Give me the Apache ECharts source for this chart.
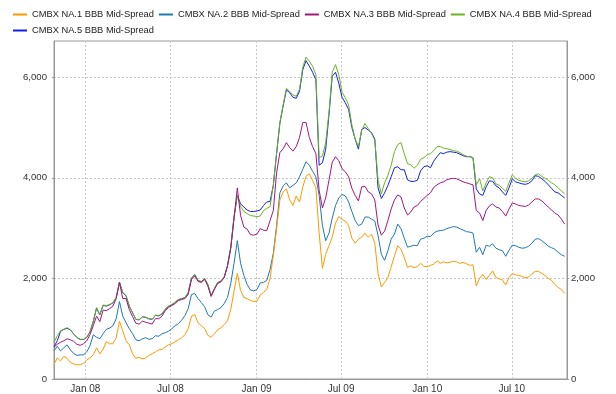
<!DOCTYPE html>
<html>
<head>
<meta charset="utf-8">
<script src="https://cdn.jsdelivr.net/npm/echarts@6/dist/echarts.min.js"></script>
<style>
  html, body { margin: 0; padding: 0; background: #ffffff; }
  #chart { width: 616px; height: 394px; }
</style>
</head>
<body>
<div id="chart"></div>
<script>
// Weekly BBB mid-spread readings (bp) for the CMBX NA series 1-5
const seriesNames = [
  'CMBX NA.1 BBB Mid-Spread',
  'CMBX NA.2 BBB Mid-Spread',
  'CMBX NA.3 BBB Mid-Spread',
  'CMBX NA.4 BBB Mid-Spread',
  'CMBX NA.5 BBB Mid-Spread'
];
const seriesColors = ['#FF9900', '#1F78B4', '#A3177C', '#6BB41E', '#1020EE'];

const firstObservation = [2007, 9, 26]; // year, month index, day
const observationStepDays = 7;

const na1 = [
  290, 420, 360, 450, 410, 330, 300, 280, 285, 310,
  380, 420, 480, 620, 500, 590, 740, 700, 700, 820,
  1150, 960, 760, 680, 500, 410, 430, 400, 420, 470,
  500, 540, 580, 590, 640, 680, 700, 740, 780, 820,
  880, 1000, 1250, 1280, 1120, 1060, 1000, 870, 830, 900,
  980, 1020, 1080, 1160, 1380, 1750, 2100, 1760, 1620, 1600,
  1560, 1540, 1550, 1670, 1720, 1780, 2000, 2460, 2980, 3560,
  3720, 3780, 3560, 3450, 3640, 3520, 3820, 4030, 4080, 3950,
  3800, 2900, 2200, 2480, 2650, 2820, 3100, 3230, 3170, 3140,
  3050, 2800, 2700, 2780, 2820, 2900, 2820, 2880, 2700, 2100,
  1830, 1920, 2020, 2230, 2450, 2650, 2580, 2420, 2220, 2250,
  2210, 2240, 2300, 2240, 2230, 2260, 2280, 2350, 2300, 2330,
  2310, 2320, 2340, 2330, 2300, 2320, 2290, 2260, 2270, 1850,
  2000, 2080, 1980, 2060, 2150, 2020, 1990, 1970, 1870, 2020,
  2100, 2070, 2060, 2040, 2010, 2030, 2090, 2140, 2140, 2100,
  2060, 2000, 1960, 1880, 1820, 1780, 1700
];
const na2 = [
  560, 650, 560, 620, 680, 580, 510, 470, 480, 480,
  540, 660, 880, 830, 800, 900, 990, 1010, 1060, 1200,
  1540, 1250, 1120, 1000, 900, 780, 760, 800, 820, 790,
  800, 860, 850, 900, 920, 950, 1000, 1060, 1100, 1170,
  1260, 1400, 1680, 1700, 1600, 1520, 1440, 1280, 1230, 1350,
  1380, 1420, 1500, 1620, 1900, 2300, 2750, 2300, 2060, 1880,
  1770, 1750, 1780, 1910, 1920, 1960, 2180, 2500, 3050, 3700,
  3840, 3900, 3800, 3850, 3900, 4020, 4170, 4320, 4250, 4130,
  4020, 3650, 3050, 2750, 2900, 3200, 3450, 3600, 3670, 3640,
  3520, 3330, 3150, 3050, 3080, 3220, 3220, 3180, 3140, 2850,
  2480, 2360, 2550, 2780, 2880, 3080, 2990, 2800, 2620, 2640,
  2660, 2650, 2780, 2800, 2840, 2830, 2900, 2940, 2950, 2960,
  2990, 3010, 3030, 3020, 2990, 2960, 2930, 2920, 2900, 2520,
  2620, 2470, 2660, 2640, 2690, 2600, 2570, 2550, 2440, 2560,
  2660, 2650, 2620, 2600, 2610, 2640, 2700, 2780, 2790, 2750,
  2700, 2640, 2610, 2580, 2520, 2470, 2440
];
const na3 = [
  630, 690, 730, 760, 800, 780, 750, 690, 670, 700,
  760, 880, 1060, 1250, 1140, 1370, 1360, 1400, 1450, 1600,
  1920, 1600, 1600, 1380, 1240, 1110, 1090, 1150, 1130, 1110,
  1090, 1200, 1200, 1250, 1360, 1420, 1460, 1500, 1560, 1580,
  1600, 1680, 1980, 2050, 1940, 1920, 1980, 1850, 1640, 1780,
  1900, 1930, 2020, 2240, 2600, 3200, 3800, 3250, 3020, 2980,
  2870, 2860, 2880, 2990, 2960, 2950, 3150, 3350, 4100, 4500,
  4580, 4700, 4600, 4530, 4620, 4800, 5100, 5100, 4800, 4620,
  4480, 3750, 3400, 3600, 3950, 4310, 4420, 4340, 4180, 4120,
  4020, 3790, 3650, 3540, 3820, 3830, 3720, 3680, 3560, 3060,
  2860, 2940, 3150, 3380, 3560, 3660, 3620, 3400, 3260, 3320,
  3420, 3450, 3530, 3590, 3650, 3700, 3810, 3860, 3900, 3920,
  3960, 3980, 3990, 3980, 3950, 3920, 3900, 3880, 3860, 3350,
  3300, 3150, 3350, 3440, 3480, 3420, 3400, 3330, 3240, 3380,
  3500, 3480, 3450, 3440, 3430, 3460, 3520, 3580, 3580, 3540,
  3480, 3420, 3360, 3300, 3260, 3180, 3080
];
const na4 = [
  730, 860, 960, 990, 1020, 980, 900, 830, 790, 790,
  830, 940, 1150, 1420, 1280, 1470, 1460, 1480, 1520, 1620,
  1930, 1720, 1660, 1450, 1320, 1190, 1180, 1240, 1230, 1200,
  1190, 1270, 1260, 1300, 1390, 1450, 1480, 1530, 1580, 1600,
  1620, 1720, 2010, 2080, 1960, 1940, 2000, 1880, 1660, 1800,
  1920, 1950, 2030, 2260, 2620, 3220, 3650, 3430, 3330, 3290,
  3250, 3240, 3230, 3240, 3350, 3390, 3430, 3850, 4500, 5100,
  5450, 5780, 5720, 5650, 5620, 5760, 6200, 6400, 6320, 6220,
  6050, 4400, 4430, 4700, 5300, 6100, 6250, 6050, 5700, 5590,
  5450, 5050, 4770, 4620, 4950, 5080, 4980, 4880, 4750, 3950,
  3680, 3900, 4050, 4250, 4520, 4660, 4700, 4480, 4280, 4260,
  4190, 4250, 4370, 4400, 4460, 4480, 4540, 4620, 4620, 4590,
  4580, 4560, 4540, 4530, 4500, 4460, 4430, 4420, 4400, 3860,
  3980, 3740, 3900, 4020, 4000, 3880, 3850, 3790, 3730, 3900,
  4060, 3990, 3950, 3930, 3920, 3940, 3990, 4060, 4080, 4030,
  3990, 3950, 3900, 3860, 3800, 3740, 3680
];
const na5 = [
  640, 760, 950, 985, 1010, 975, 895, 825, 785, 785,
  825, 935, 1140, 1410, 1275, 1465, 1450, 1475, 1515, 1615,
  1925, 1715, 1655, 1445, 1315, 1185, 1175, 1235, 1225, 1195,
  1185, 1265, 1255, 1295, 1385, 1445, 1475, 1525, 1575, 1595,
  1615, 1715, 2005, 2075, 1955, 1935, 1995, 1875, 1655, 1795,
  1915, 1945, 2025, 2255, 2615, 3215, 3650, 3480, 3420, 3360,
  3330, 3330, 3340, 3360, 3450, 3520, 3530, 3850, 4480, 5080,
  5430, 5750, 5690, 5600, 5580, 5720, 6150, 6330, 6220, 6100,
  5950, 4250, 4300, 4570, 5250, 6020, 6100, 5880, 5600, 5490,
  5360, 5000, 4770, 4570, 4960, 5000, 4950, 4900, 4770, 3800,
  3590, 3700, 3850, 4020, 4200, 4220, 4160, 4160, 3960, 3930,
  3930, 3950, 4140, 4220, 4240, 4200, 4330, 4420, 4500, 4480,
  4510, 4520, 4510, 4500, 4470, 4440, 4420, 4420, 4400, 3780,
  3680, 3650, 3820, 3940, 3930, 3840, 3800, 3720, 3650, 3800,
  3980, 3920, 3900, 3880, 3870, 3890, 3940, 4040, 4030, 3980,
  3930, 3860, 3790, 3720, 3700, 3650, 3600
];
const seriesValues = [na1, na2, na3, na4, na5];

// Axis ticks
const yTickValues = [0, 2000, 4000, 6000];
const xTickDates = [[2008, 0, 1], [2008, 6, 1], [2009, 0, 1], [2009, 6, 1], [2010, 0, 1], [2010, 6, 1]];
const monthNames = ['Jan', 'Feb', 'Mar', 'Apr', 'May', 'Jun', 'Jul', 'Aug', 'Sep', 'Oct', 'Nov', 'Dec'];
const xRange = [[2007, 9, 26], [2010, 9, 27]];
const yRange = [0, 6720];

const toTime = (ymd) => new Date(ymd[0], ymd[1], ymd[2]).getTime();
const observationDates = na1.map((_, i) =>
  new Date(firstObservation[0], firstObservation[1], firstObservation[2] + i * observationStepDays).getTime()
);
const xTickValues = xTickDates.map(toTime);

const FONT = 'Liberation Sans';
const axisGray = '#999999';
const gridStyle = { color: '#c8c8c8', width: 1, type: [2, 2] };

const yAxisBase = (position) => ({
  type: 'value',
  position: position,
  min: yRange[0],
  max: yRange[1],
  axisLine: { show: true, lineStyle: { color: axisGray, width: 1 } },
  axisTick: { show: true, length: 2, customValues: yTickValues, lineStyle: { color: axisGray } },
  axisLabel: {
    customValues: yTickValues,
    color: '#333333',
    fontFamily: FONT,
    fontSize: 9.6,
    margin: position === 'left' ? 7 : 4,
    formatter: (v) => Number(v).toLocaleString('en-US')
  },
  splitLine: { show: position === 'left', lineStyle: gridStyle }
});

// Two legend rows: first four series, then the fifth on its own line
const legendRow = (names, top) => ({
  data: names,
  left: 13,
  top: top,
  itemWidth: 14,
  itemHeight: 2,
  itemGap: 5,
  icon: 'rect',
  padding: 0,
  textStyle: { fontFamily: FONT, fontSize: 9.3, color: '#1a1a1a' }
});

const chart = echarts.init(document.getElementById('chart'), null, { renderer: 'canvas' });

chart.setOption({
  animation: false,
  backgroundColor: '#ffffff',
  color: seriesColors,
  legend: [legendRow(seriesNames.slice(0, 4), 10), legendRow(seriesNames.slice(4), 26)],
  grid: {
    left: 54,
    right: 49,
    top: 41,
    bottom: 12,
    show: true,
    borderColor: axisGray,
    borderWidth: 1,
    backgroundColor: '#ffffff',
    containLabel: false
  },
  xAxis: {
    type: 'value',
    min: toTime(xRange[0]),
    max: toTime(xRange[1]),
    axisLine: { show: true, lineStyle: { color: axisGray, width: 1 } },
    axisTick: { show: false, customValues: xTickValues },
    axisLabel: {
      customValues: xTickValues,
      color: '#333333',
      fontFamily: FONT,
      fontSize: 10,
      margin: 5,
      hideOverlap: false,
      formatter: (v) => {
        const d = new Date(v);
        return monthNames[d.getMonth()] + ' ' + String(d.getFullYear()).slice(2);
      }
    },
    splitLine: { show: true, lineStyle: gridStyle }
  },
  yAxis: [yAxisBase('left'), yAxisBase('right')],
  series: seriesNames.map((name, i) => ({
    name: name,
    type: 'line',
    yAxisIndex: 0,
    showSymbol: false,
    symbol: 'none',
    z: 10 - i,
    lineStyle: { width: 1, color: seriesColors[i] },
    itemStyle: { color: seriesColors[i] },
    data: observationDates.map((t, k) => [t, seriesValues[i][k]])
  }))
});
</script>
</body>
</html>
